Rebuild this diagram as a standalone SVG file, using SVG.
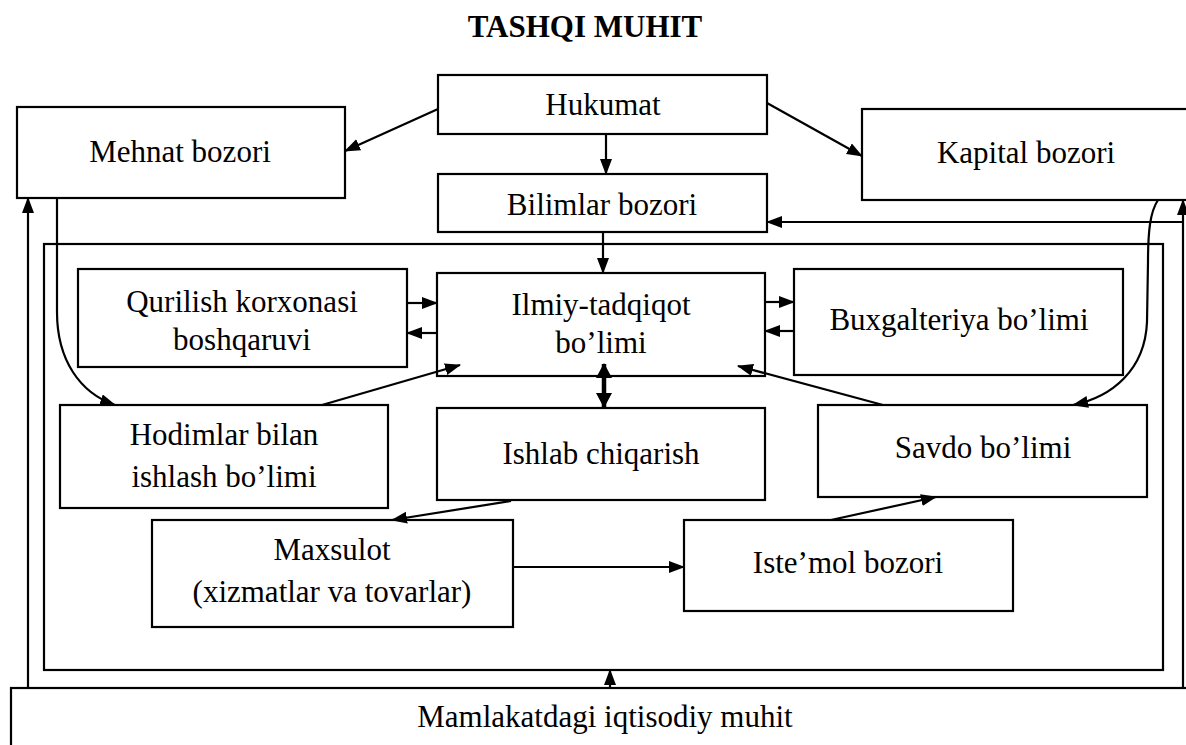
<svg xmlns="http://www.w3.org/2000/svg" width="1186" height="745" viewBox="0 0 1186 745">
<style>
.box{fill:#fff;stroke:#000;stroke-width:2.2}
.frame{fill:none;stroke:#000;stroke-width:2.2}
.t{font-family:"Liberation Serif","Times New Roman",serif;font-size:31px;fill:#000;text-anchor:middle}
.title{font-family:"Liberation Serif","Times New Roman",serif;font-size:31px;font-weight:bold;fill:#000;text-anchor:middle}
.c{fill:none;stroke:#000;stroke-width:2.2;marker-end:url(#ah)}
.dbl{fill:none;stroke:#000;stroke-width:4.5;marker-end:url(#ahb);marker-start:url(#ahbs)}
</style>
<defs>
<marker id="ah" markerUnits="userSpaceOnUse" markerWidth="16" markerHeight="13" refX="15" refY="6" orient="auto"><path d="M0,0 L16,6 L0,12 z" fill="#000"/></marker>
<marker id="ahb" markerUnits="userSpaceOnUse" markerWidth="15" markerHeight="17" refX="14" refY="8" orient="auto"><path d="M0,0 L15,8 L0,16 z" fill="#000"/></marker>
<marker id="ahbs" markerUnits="userSpaceOnUse" markerWidth="15" markerHeight="17" refX="14" refY="8" orient="auto-start-reverse"><path d="M0,0 L15,8 L0,16 z" fill="#000"/></marker>
</defs>
<rect width="1186" height="745" fill="#fff"/>
<text class="title" x="585" y="37">TASHQI MUHIT</text>

<g id="enterprise-frame"><rect class="frame" x="44" y="244" width="1119" height="426"/></g>

<g id="hukumat"><rect class="box" x="438" y="75" width="329" height="59"/><text class="t" x="603" y="115">Hukumat</text></g>
<g id="mehnat-bozori"><rect class="box" x="17" y="107" width="328" height="91"/><text class="t" x="180" y="162">Mehnat bozori</text></g>
<g id="kapital-bozori"><rect class="box" x="862" y="109" width="340" height="91"/><text class="t" x="1026" y="163">Kapital bozori</text></g>
<g id="bilimlar-bozori"><rect class="box" x="438" y="174" width="329" height="58"/><text class="t" x="602" y="215">Bilimlar bozori</text></g>
<g id="qurilish"><rect class="box" x="78" y="269" width="329" height="98"/><text class="t" x="242" y="312">Qurilish korxonasi</text><text class="t" x="242" y="350">boshqaruvi</text></g>
<g id="ilmiy"><rect class="box" x="437" y="273" width="328" height="103"/><text class="t" x="601" y="315">Ilmiy-tadqiqot</text><text class="t" x="601" y="353">bo’limi</text></g>
<g id="buxgalteriya"><rect class="box" x="794" y="269" width="329" height="106"/><text class="t" x="959" y="330">Buxgalteriya bo’limi</text></g>
<g id="hodimlar"><rect class="box" x="60" y="405" width="328" height="103"/><text class="t" x="224" y="445">Hodimlar bilan</text><text class="t" x="224" y="487">ishlash bo’limi</text></g>
<g id="ishlab"><rect class="box" x="437" y="408" width="328" height="92"/><text class="t" x="601" y="464">Ishlab chiqarish</text></g>
<g id="savdo"><rect class="box" x="818" y="405" width="329" height="92"/><text class="t" x="983" y="458">Savdo bo’limi</text></g>
<g id="maxsulot"><rect class="box" x="152" y="520" width="361" height="107"/><text class="t" x="332" y="560">Maxsulot</text><text class="t" x="332" y="602">(xizmatlar va tovarlar)</text></g>
<g id="istemol"><rect class="box" x="684" y="520" width="329" height="91"/><text class="t" x="848" y="573">Iste’mol bozori</text></g>
<g id="mamlakat"><rect class="box" x="11" y="688" width="1200" height="80"/><text class="t" x="605" y="727">Mamlakatdagi iqtisodiy muhit</text></g>

<g id="connectors">
<line class="c" x1="438" y1="109" x2="345" y2="151"/>
<line class="c" x1="767" y1="103" x2="862" y2="156"/>
<line class="c" x1="606" y1="134" x2="606" y2="174"/>
<line class="c" x1="603" y1="232" x2="603" y2="273"/>
<line class="c" x1="1183" y1="688" x2="1183" y2="200"/>
<line class="c" x1="1183" y1="222" x2="767" y2="222"/>
<line class="c" x1="28" y1="688" x2="28" y2="198"/>
<path class="c" d="M57,198 L57,312 C57,360 80,393 115,405"/>
<path class="c" d="M1158,200 C1150,212 1148,232 1148,262 L1147,322 C1145,370 1112,397 1073,405"/>
<line class="c" x1="407" y1="303" x2="437" y2="303"/>
<line class="c" x1="437" y1="333" x2="407" y2="333"/>
<line class="c" x1="765" y1="302" x2="794" y2="302"/>
<line class="c" x1="794" y1="331" x2="765" y2="331"/>
<line class="c" x1="322" y1="405" x2="460" y2="365"/>
<line class="c" x1="883" y1="405" x2="738" y2="366"/>
<line class="dbl" x1="604" y1="364" x2="604" y2="407"/>
<line class="c" x1="511" y1="501" x2="392" y2="520"/>
<line class="c" x1="513" y1="567" x2="684" y2="567"/>
<line class="c" x1="831" y1="520" x2="936" y2="497"/>
<line class="c" x1="610" y1="688" x2="610" y2="670"/>
</g>
</svg>
